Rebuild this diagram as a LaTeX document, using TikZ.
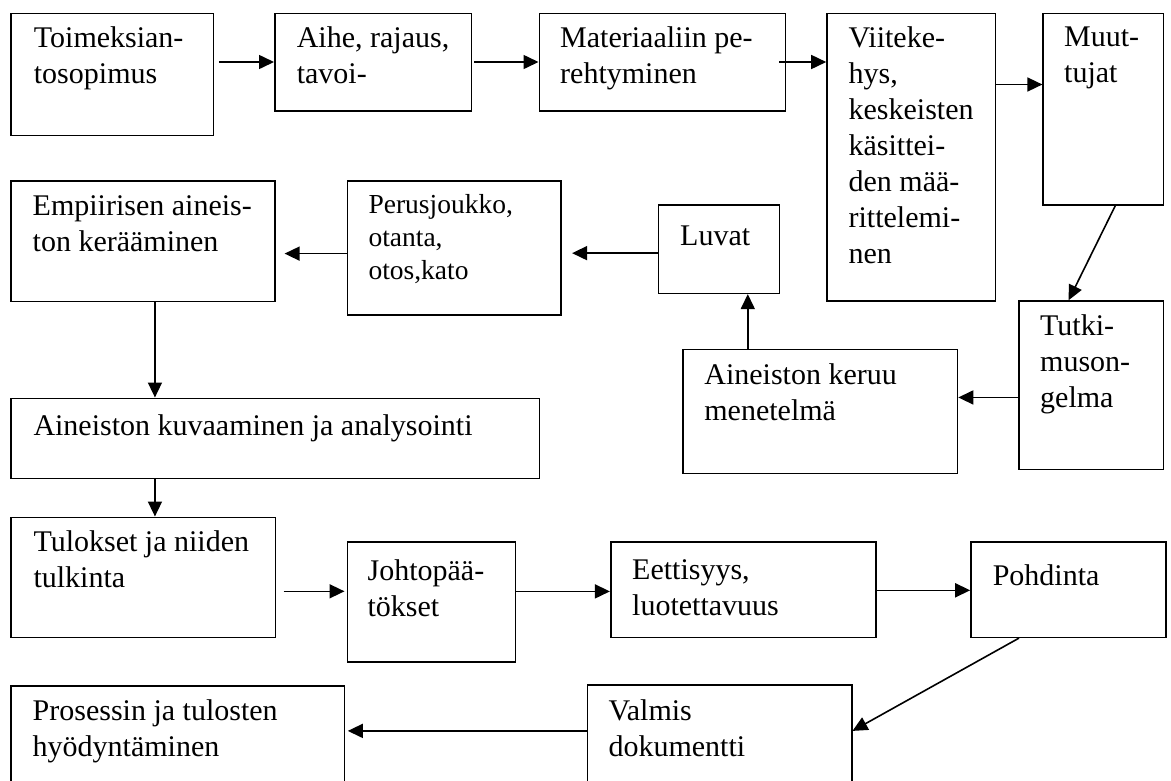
\documentclass[tikz,border=0pt]{standalone}
\usepackage{fontspec}
\setmainfont{Liberation Serif}
\usetikzlibrary{arrows.meta,fit}
\begin{document}
\begin{tikzpicture}[x=1pt,y=-1pt,
  box/.style={draw,line width=1.6pt,inner sep=0pt,rectangle},
  txt/.style={anchor=north west,align=left,inner sep=0pt,font=\fontsize{30}{36}\selectfont,execute at begin node=\strut,yshift=25.2pt},
  txts/.style={anchor=north west,align=left,inner sep=0pt,font=\fontsize{27.5}{33}\selectfont,execute at begin node=\strut,yshift=23.1pt},
  arr/.style={line width=1.6pt,-{Triangle[length=15pt,width=14pt]}}]
\useasboundingbox[fill=white] (0,0) rectangle (1171,780);
% row 1
\node[box,fit={(10.7,13.3) (213.5,135.3)}] (t) {};
\node[box,fit={(274.8,13.3) (471.5,110.7)}] (a) {};
\node[box,fit={(539.3,13.3) (785.3,110.7)}] (m) {};
\node[box,fit={(827,13.3) (995.3,301)}] (v) {};
\node[box,fit={(1043.2,13.3) (1163.3,205)}] (mu) {};
% row 2
\node[box,fit={(10.7,181) (274.8,301.3)}] (em) {};
\node[box,fit={(347.3,181) (561,315)}] (pe) {};
\node[box,fit={(658.6,205) (779.4,293.3)}] (lu) {};
\node[box,fit={(1019,301) (1163.3,469.3)}] (tu) {};
\node[box,fit={(683,349.3) (957.5,473.3)}] (ke) {};
\node[box,fit={(11.2,398.3) (539.6,478.3)}] (kv) {};
% row 3
\node[box,fit={(10.7,517.3) (275.3,637.3)}] (tl) {};
\node[box,fit={(347.3,541.7) (515.3,661.7)}] (jo) {};
\node[box,fit={(610.7,541.7) (875.7,637.3)}] (ee) {};
\node[box,fit={(971,541.7) (1166,637.3)}] (po) {};
% row 4
\node[box,fit={(10.7,685.7) (344.4,795)}] (pr) {};
\node[box,fit={(587.3,685) (851.7,795)}] (va) {};
% texts (positions are first baselines)
\node[txt] (tT) at (33.7,51.7) {Toimeksian-\\tosopimus};
\node[txt] (aT) at (296.6,51.7) {Aihe, rajaus,\\tavoi-};
\node[txt] (mT) at (560,51.7) {Materiaaliin pe-\\rehtyminen};
\node[txt] (vT) at (848.4,51.7) {Viiteke-\\hys,\\keskeisten\\käsittei-\\den mää-\\rittelemi-\\nen};
\node[txt] (muT) at (1064,51.7) {Muut-\\tujat};
\node[txt] (emT) at (32.5,220.5) {Empiirisen aineis-\\ton kerääminen};
\node[txts] (peT) at (368.3,217.3) {Perusjoukko,\\otanta,\\otos,kato};
\node[txt] (luT) at (680,245) {Luvat};
\node[txt] (tuT) at (1040,339.3) {Tutki-\\muson-\\gelma};
\node[txt] (keT) at (704.2,388.3) {Aineiston keruu\\menetelmä};
\node[txt] (kvT) at (33.3,435) {Aineiston kuvaaminen ja analysointi};
\node[txt] (tlT) at (33.3,555.7) {Tulokset ja niiden\\tulkinta};
\node[txt] (joT) at (367.4,585) {Johtopää-\\tökset};
\node[txt] (eeT) at (632,585) {Eettisyys,\\luotettavuus};
\node[txt] (poT) at (992.6,585) {Pohdinta};
\node[txt] (prT) at (32.5,725) {Prosessin ja tulosten\\hyödyntäminen};
\node[txt] (vaT) at (608.3,725) {Valmis\\dokumentti};
% connectors
\draw[arr] ([xshift=4.5pt]t.east |- a.west) -- (a.west);
\draw[arr] ([xshift=2pt]a.east) -- (m.west);
\draw[arr] ([xshift=-7pt]m.east) -- (m.east -| v.west);
\draw[arr] ([yshift=-72pt]v.north east) -- ([yshift=-72pt]mu.north west);
\draw[arr] ([xshift=12pt]mu.south) -- ([xshift=-22.5pt]tu.north);
\draw[arr] ([yshift=-12.3pt]tu.west) -- ([yshift=-12.3pt]tu.west -| ke.east);
\draw[arr] ([xshift=28.8pt]lu.south |- ke.north) -- ([xshift=28.8pt]lu.south);
\draw[arr] ([yshift=-4pt]lu.west) -- ([yshift=-4pt,xshift=10.3pt]lu.west -| pe.east);
\draw[arr] ([yshift=-5.6pt]pe.west) -- ([yshift=-5.6pt,xshift=9pt]pe.west -| em.east);
\draw[arr] ([xshift=12.2pt]em.south) -- ([xshift=12.2pt]em.south |- kv.north);
\draw[arr] ([xshift=12.2pt]em.south |- kv.south) -- ([xshift=12.2pt]em.south |- tl.north);
\draw[arr] ([xshift=7.4pt,yshift=-14pt]tl.east) -- ([yshift=-14pt,xshift=-2pt]tl.east -| jo.west);
\draw[arr] ([yshift=10.3pt]jo.east) -- ([yshift=10.3pt]jo.east -| ee.west);
\draw[arr] ([yshift=-0.8pt]ee.east) -- ([yshift=-0.8pt]po.west);
\draw[arr] ([xshift=-49.5pt]po.south) -- ([yshift=-46.7pt]va.north east);
\draw[arr] ([yshift=-46.7pt]va.north west) -- ([yshift=-46.7pt,xshift=2.6pt]va.north west -| pr.east);
\end{tikzpicture}
\end{document}
